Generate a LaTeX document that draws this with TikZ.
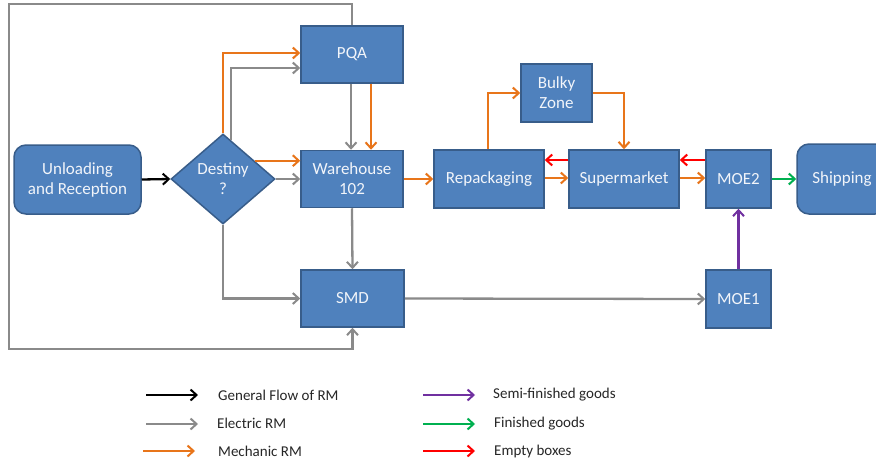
\documentclass[tikz,border=0pt]{standalone}
\usepackage{fontspec}
\setmainfont{Carlito}
\usetikzlibrary{arrows.meta,shapes.geometric}
\definecolor{boxfill}{HTML}{4F81BD}
\definecolor{boxline}{HTML}{385D8A}
\definecolor{boxtext}{HTML}{F2F5FA}
\definecolor{flowgray}{HTML}{8A8A8A}
\definecolor{flowor}{HTML}{E8751A}
\definecolor{flowred}{HTML}{FF0000}
\definecolor{flowgreen}{HTML}{00B050}
\definecolor{flowpurple}{HTML}{7030A0}
\definecolor{legtext}{HTML}{262626}
\tikzset{
  proc/.style={rectangle, fill=boxfill, draw=boxline, line width=1.5pt,
    text=boxtext, align=center, font=\fontsize{17}{20}\selectfont, inner sep=0pt},
  term/.style={proc, rounded corners=12pt},
  decide/.style={diamond, fill=boxfill, draw=boxline, line width=1.5pt,
    text=boxtext, align=center, font=\fontsize{17}{20}\selectfont, inner sep=0pt,
    minimum width=104pt, minimum height=90pt, aspect=1.155},
  flow/.style={line width=2.3pt, -{Straight Barb[length=6pt,width=11pt,line width=2pt]}},
  fblack/.style={flow, draw=black},
  fgray/.style={flow, draw=flowgray},
  forange/.style={flow, draw=flowor},
  fred/.style={flow, draw=flowred},
  fgreen/.style={flow, draw=flowgreen},
  fpurple/.style={flow, draw=flowpurple},
  legend/.style={anchor=west, text=legtext, font=\fontsize{15}{17}\selectfont, inner sep=0pt}
}
\begin{document}
\begin{tikzpicture}[x=1pt,y=-1pt]
\clip (0,0) rectangle (876,463);
\fill[white] (0,0) rectangle (876,463);

% process boxes
\node[term, minimum width=127pt, minimum height=69pt] (unl) at (77.5,179.5) {Unloading\\and Reception};
\node[decide] (dest) at (223,179) {Destiny\\?};
\node[proc, minimum width=102pt, minimum height=57pt] (pqa) at (352,54.5) {PQA};
\node[proc, minimum width=102pt, minimum height=57pt] (wh) at (352,179) {Warehouse\\102};
\node[proc, minimum width=103pt, minimum height=57pt] (smd) at (352.5,298.5) {SMD};
\node[proc, minimum width=110pt, minimum height=58pt] (rep) at (489,179) {Repackaging};
\node[proc, minimum width=71pt, minimum height=58pt] (bulky) at (556.5,93) {Bulky\\Zone};
\node[proc, minimum width=110pt, minimum height=58pt] (sup) at (624,179) {Supermarket};
\node[proc, minimum width=65pt, minimum height=58pt] (moe2) at (738.5,179) {MOE2};
\node[proc, minimum width=65pt, minimum height=58pt] (moe1) at (738.5,299) {MOE1};
\node[term, minimum width=90pt, minimum height=70pt] (ship) at (842,179) {Shipping};

% corners of the return loop
\coordinate (loopTL) at (9,4);
\coordinate (loopBL) at (9,349);

% connectors
\draw[fblack] (unl.east) -- (dest.west);
\draw[forange] (dest.north) |- ([yshift=1.5pt]pqa.west);
\draw[fgray] (dest.78) |- ([yshift=-13.5pt]pqa.west);
\draw[forange] (dest.30) -- (dest.30 -| wh.west);
\draw[fgray] (dest.east) -- (wh.west);
\draw[fgray] (dest.south) |- (smd.west);
\draw[fgray] ([xshift=-1pt]pqa.south) -- ([xshift=-1pt]wh.north);
\draw[forange] ([xshift=19pt]pqa.south) -- ([xshift=19pt]wh.north);
\draw[fgray] (wh.south) -- (smd.north);
\draw[forange] (wh.east) -- (rep.west);
\draw[forange] ([yshift=1pt]rep.east) -- ([yshift=1pt]sup.west);
\draw[fred] ([yshift=19pt]sup.west) -- ([yshift=19pt]rep.east);
\draw[forange] ([xshift=-1pt]rep.north) |- (bulky.west);
\draw[forange] (bulky.east) -| (sup.north);
\draw[forange] ([yshift=1pt]sup.east) -- ([yshift=1pt]moe2.west);
\draw[fred] ([yshift=19pt]moe2.west) -- ([yshift=19pt]sup.east);
\draw[fgreen] (moe2.east) -- (ship.west);
\draw[fpurple] (moe1.north) -- (moe2.south);
\draw[fgray] (smd.east) -- (moe1.west);
\draw[fgray] (pqa.north) |- (loopTL) -- (loopBL) -| (smd.south);

% legend
\coordinate (lA1) at (146,395); \coordinate (lA2) at (198,395);
\coordinate (lB1) at (146,424); \coordinate (lB2) at (198,424);
\coordinate (lC1) at (143,451); \coordinate (lC2) at (195,451);
\coordinate (lD1) at (423,395); \coordinate (lD2) at (475,395);
\coordinate (lE1) at (423,424); \coordinate (lE2) at (475,424);
\coordinate (lF1) at (423,451); \coordinate (lF2) at (475,451);
\draw[fblack] (lA1) -- (lA2);
\draw[fgray] (lB1) -- (lB2);
\draw[forange] (lC1) -- (lC2);
\draw[fpurple] (lD1) -- (lD2);
\draw[fgreen] (lE1) -- (lE2);
\draw[fred] (lF1) -- (lF2);
\node[legend] (tA) at (218,395) {General Flow of RM};
\node[legend] (tB) at (217,423) {Electric RM};
\node[legend] (tC) at (218,451) {Mechanic RM};
\node[legend] (tD) at (493,395) {Semi-finished goods};
\node[legend] (tE) at (494,424) {Finished goods};
\node[legend] (tF) at (494,451) {Empty boxes};
\end{tikzpicture}
\end{document}
